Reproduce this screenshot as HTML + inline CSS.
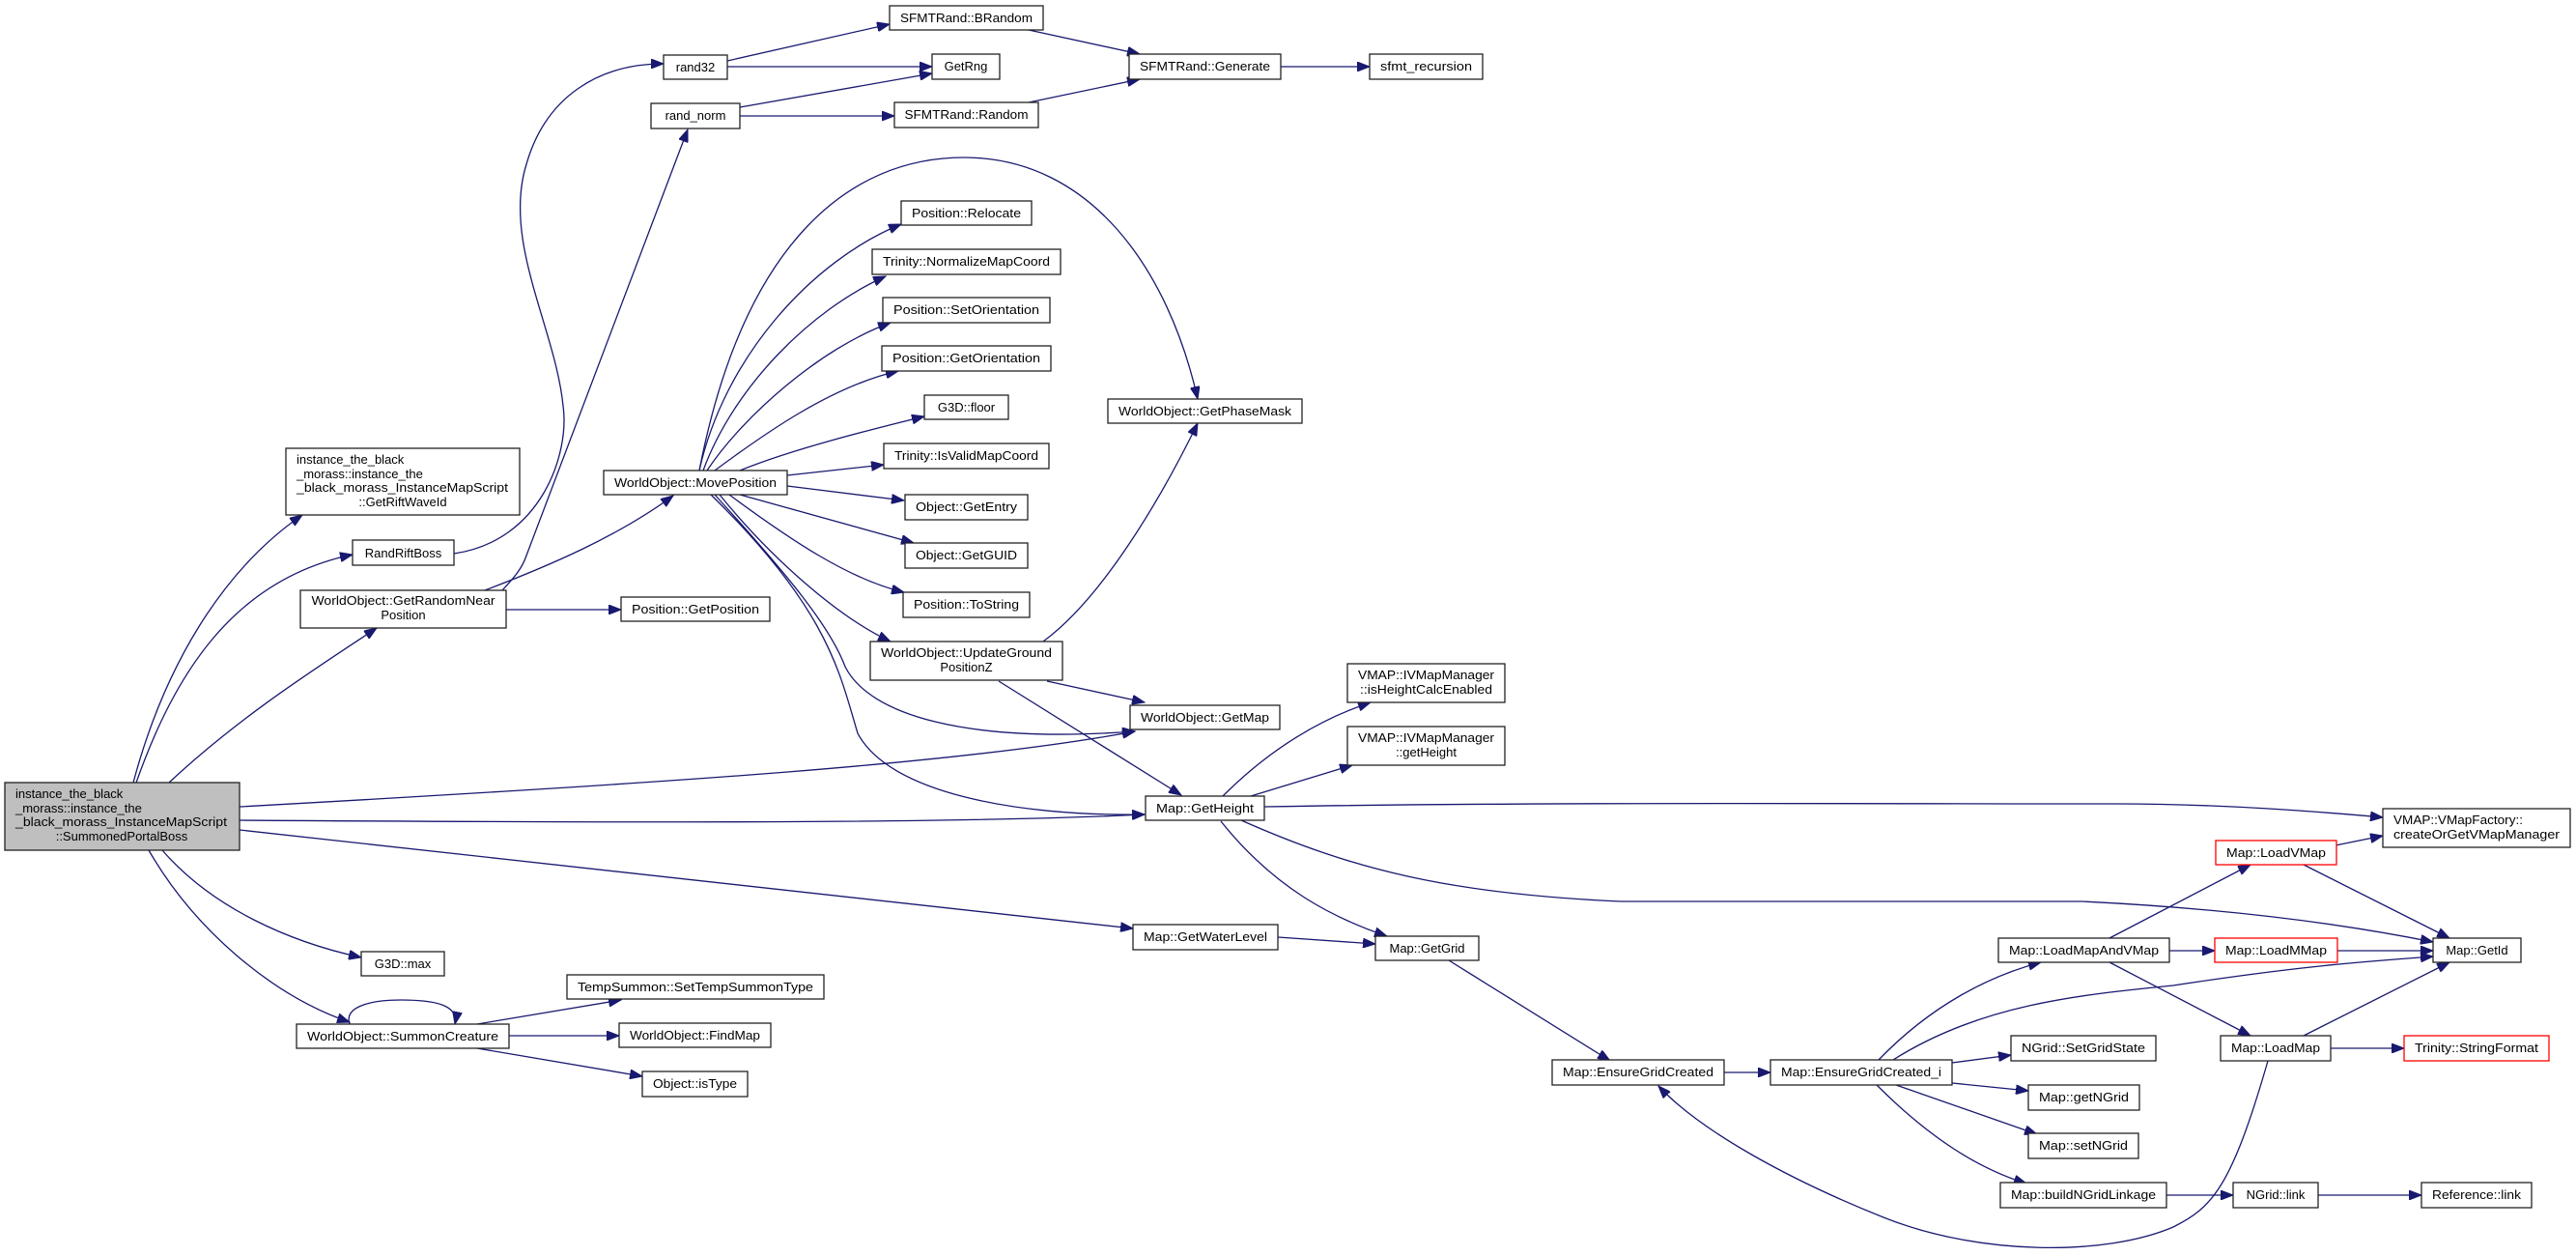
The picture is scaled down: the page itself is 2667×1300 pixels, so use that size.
<!DOCTYPE html>
<html><head><meta charset="utf-8">
<style>
html,body{margin:0;padding:0;background:#fff;}
svg{display:block;}
text{font-family:"Liberation Sans","DejaVu Sans",sans-serif;font-size:13px;fill:#000;}
.n{fill:#fff;stroke:#222;stroke-width:1.3;}
.m{fill:#bfbfbf;stroke:#222;stroke-width:1.3;}
.r{fill:#fff;stroke:#ff0000;stroke-width:1.3;}
.e{fill:none;stroke:#191970;stroke-width:1.3;marker-end:url(#a);}
</style></head><body>
<svg width="2667" height="1300" viewBox="0 0 2667 1300" xmlns="http://www.w3.org/2000/svg">
<defs>
<marker id="a" markerUnits="userSpaceOnUse" markerWidth="14" markerHeight="10" refX="13" refY="5" orient="auto">
<path d="M0,0 L13,5 L0,10 Z" fill="#191970" stroke="#191970"/>
</marker>
</defs>

<!-- edges -->
<path class="e" d="M138,810 C170,690 230,590 313,533"/>
<path class="e" d="M141,810 C180,700 240,600 365,574"/>
<path class="e" d="M175,810 C250,740 330,690 390,650"/>
<path class="e" d="M248,835 C700,810 1000,790 1175,757"/>
<path class="e" d="M248,849 C700,852 1000,852 1185,843"/>
<path class="e" d="M248,859 L1173,961"/>
<path class="e" d="M168,880 C220,940 300,975 374,991"/>
<path class="e" d="M154,880 C200,960 280,1030 362,1058"/>
<path class="e" d="M470,573 C560,560 590,470 583,420 C575,340 520,250 545,170 C565,100 620,66 687,66"/>
<path class="e" d="M520,611 C530,600 540,590 545,575 L712,134"/>
<path class="e" d="M502,611 C570,585 640,555 697,513"/>
<path class="e" d="M524,631 L643,631"/>
<path class="e" d="M753,63 L921,25"/>
<path class="e" d="M753,69 L965,69"/>
<path class="e" d="M766,111 L965,76"/>
<path class="e" d="M766,120 L926,120"/>
<path class="e" d="M1065,31 L1180,56"/>
<path class="e" d="M1065,106 L1180,82"/>
<path class="e" d="M1326,69 L1418,69"/>
<path class="e" d="M724,487 C770,250 880,163 998,163 C1130,163 1210,280 1240,413"/>
<path class="e" d="M724,487 C750,370 840,270 933,232"/>
<path class="e" d="M728,487 C760,400 840,320 917,286"/>
<path class="e" d="M732,487 C770,430 850,360 922,334"/>
<path class="e" d="M740,487 C790,450 860,400 930,384"/>
<path class="e" d="M766,487 C820,465 900,445 957,431"/>
<path class="e" d="M815,492 L915,481"/>
<path class="e" d="M815,503 L936,518"/>
<path class="e" d="M766,512 L946,562"/>
<path class="e" d="M755,512 C820,560 880,600 936,613"/>
<path class="e" d="M745,512 C800,580 870,640 922,664"/>
<path class="e" d="M740,512 C820,600 860,650 875,690 C900,740 1000,770 1175,757"/>
<path class="e" d="M736,512 C860,633 870,700 888,759 C920,820 1050,845 1185,843"/>
<path class="e" d="M1080,664 C1140,620 1200,520 1240,438"/>
<path class="e" d="M1084,705 L1185,727"/>
<path class="e" d="M1034,705 L1223,823"/>
<path class="e" d="M1266,824 C1300,790 1350,750 1419,727"/>
<path class="e" d="M1295,824 L1400,792"/>
<path class="e" d="M1309,835 C1600,830 1900,832 2191,832 C2300,832 2400,840 2467,846"/>
<path class="e" d="M1285,849 C1400,900 1500,925 1678,933 L2155,933 C2300,940 2420,955 2519,975"/>
<path class="e" d="M1264,850 C1320,920 1380,950 1436,969"/>
<path class="e" d="M1323,970 L1424,977"/>
<path class="e" d="M1500,994 L1667,1098"/>
<path class="e" d="M1785,1110 L1833,1110"/>
<path class="e" d="M1945,1097 C2000,1040 2060,1010 2113,996"/>
<path class="e" d="M1960,1097 C2050,1040 2150,1030 2250,1020 C2380,1000 2450,995 2519,990"/>
<path class="e" d="M2021,1100 L2082,1092"/>
<path class="e" d="M2021,1121 L2100,1129"/>
<path class="e" d="M1963,1123 L2109,1174"/>
<path class="e" d="M1943,1123 C2000,1180 2050,1210 2098,1225"/>
<path class="e" d="M2184,971 L2330,895"/>
<path class="e" d="M2246,984 L2293,984"/>
<path class="e" d="M2184,996 L2330,1072"/>
<path class="e" d="M2418,875 L2467,865"/>
<path class="e" d="M2385,895 L2536,971"/>
<path class="e" d="M2420,984 L2519,984"/>
<path class="e" d="M2385,1072 L2536,996"/>
<path class="e" d="M2413,1085 L2489,1085"/>
<path class="e" d="M2348,1098 C2310,1230 2290,1250 2250,1270 C2180,1300 2050,1300 1950,1260 C1850,1220 1760,1170 1717,1124"/>
<path class="e" d="M2243,1237 L2312,1237"/>
<path class="e" d="M2400,1237 L2507,1237"/>
<path class="e" d="M362,1060 C355,1040 390,1035 415,1035 C450,1035 475,1040 471,1060"/>
<path class="e" d="M494,1060 L643,1035"/>
<path class="e" d="M527,1072 L641,1072"/>
<path class="e" d="M494,1085 L665,1114"/>

<!-- nodes -->
<rect class="m" x="5" y="810" width="243" height="70"/>
<text x="16" y="826">instance_the_black</text>
<text x="16" y="841">_morass::instance_the</text>
<text x="16" y="855" textLength="219" lengthAdjust="spacingAndGlyphs">_black_morass_InstanceMapScript</text>
<text x="126" y="870" text-anchor="middle">::SummonedPortalBoss</text>

<rect class="n" x="296" y="464" width="242" height="69"/>
<text x="307" y="480">instance_the_black</text>
<text x="307" y="495">_morass::instance_the</text>
<text x="307" y="509" textLength="219" lengthAdjust="spacingAndGlyphs">_black_morass_InstanceMapScript</text>
<text x="417" y="524" text-anchor="middle">::GetRiftWaveId</text>

<rect class="n" x="365" y="559" width="105" height="26"/><text x="417.5" y="577" text-anchor="middle">RandRiftBoss</text>
<rect class="n" x="311" y="611" width="213" height="39"/>
<text x="417.5" y="626" text-anchor="middle" textLength="190" lengthAdjust="spacingAndGlyphs">WorldObject::GetRandomNear</text>
<text x="417.5" y="641" text-anchor="middle">Position</text>
<rect class="n" x="625" y="487" width="190" height="25"/><text x="720" y="504" text-anchor="middle" textLength="168" lengthAdjust="spacingAndGlyphs">WorldObject::MovePosition</text>
<rect class="n" x="643" y="618" width="154" height="25"/><text x="720" y="635" text-anchor="middle" textLength="132" lengthAdjust="spacingAndGlyphs">Position::GetPosition</text>
<rect class="n" x="687" y="57" width="66" height="25"/><text x="720" y="74" text-anchor="middle">rand32</text>
<rect class="n" x="674" y="107" width="92" height="26"/><text x="720" y="124" text-anchor="middle">rand_norm</text>
<rect class="n" x="921" y="6" width="159" height="25"/><text x="1000.5" y="23" text-anchor="middle" textLength="137" lengthAdjust="spacingAndGlyphs">SFMTRand::BRandom</text>
<rect class="n" x="965" y="56" width="70" height="26"/><text x="1000" y="73" text-anchor="middle">GetRng</text>
<rect class="n" x="926" y="106" width="149" height="26"/><text x="1000.5" y="123" text-anchor="middle" textLength="128" lengthAdjust="spacingAndGlyphs">SFMTRand::Random</text>
<rect class="n" x="1169" y="56" width="157" height="26"/><text x="1247.5" y="73" text-anchor="middle" textLength="135" lengthAdjust="spacingAndGlyphs">SFMTRand::Generate</text>
<rect class="n" x="1418" y="56" width="117" height="26"/><text x="1476.5" y="73" text-anchor="middle" textLength="95" lengthAdjust="spacingAndGlyphs">sfmt_recursion</text>
<rect class="n" x="933" y="208" width="135" height="25"/><text x="1000.5" y="225" text-anchor="middle" textLength="113" lengthAdjust="spacingAndGlyphs">Position::Relocate</text>
<rect class="n" x="903" y="258" width="195" height="26"/><text x="1000.5" y="275" text-anchor="middle" textLength="173" lengthAdjust="spacingAndGlyphs">Trinity::NormalizeMapCoord</text>
<rect class="n" x="914" y="308" width="173" height="26"/><text x="1000.5" y="325" text-anchor="middle" textLength="151" lengthAdjust="spacingAndGlyphs">Position::SetOrientation</text>
<rect class="n" x="913" y="358" width="175" height="26"/><text x="1000.5" y="375" text-anchor="middle" textLength="153" lengthAdjust="spacingAndGlyphs">Position::GetOrientation</text>
<rect class="n" x="957" y="409" width="87" height="25"/><text x="1000.5" y="426" text-anchor="middle">G3D::floor</text>
<rect class="n" x="915" y="459" width="171" height="26"/><text x="1000.5" y="476" text-anchor="middle" textLength="149" lengthAdjust="spacingAndGlyphs">Trinity::IsValidMapCoord</text>
<rect class="n" x="1147" y="413" width="201" height="25"/><text x="1247.5" y="430" text-anchor="middle" textLength="179" lengthAdjust="spacingAndGlyphs">WorldObject::GetPhaseMask</text>
<rect class="n" x="937" y="512" width="127" height="26"/><text x="1000.5" y="529" text-anchor="middle" textLength="105" lengthAdjust="spacingAndGlyphs">Object::GetEntry</text>
<rect class="n" x="937" y="562" width="127" height="26"/><text x="1000.5" y="579" text-anchor="middle" textLength="105" lengthAdjust="spacingAndGlyphs">Object::GetGUID</text>
<rect class="n" x="935" y="613" width="131" height="26"/><text x="1000.5" y="630" text-anchor="middle" textLength="109" lengthAdjust="spacingAndGlyphs">Position::ToString</text>
<rect class="n" x="901" y="664" width="199" height="40"/>
<text x="1000.5" y="680" text-anchor="middle" textLength="177" lengthAdjust="spacingAndGlyphs">WorldObject::UpdateGround</text>
<text x="1000.5" y="695" text-anchor="middle">PositionZ</text>
<rect class="n" x="1170" y="730" width="155" height="25"/><text x="1247.5" y="747" text-anchor="middle" textLength="133" lengthAdjust="spacingAndGlyphs">WorldObject::GetMap</text>
<rect class="n" x="1395" y="687" width="163" height="40"/>
<text x="1476.5" y="703" text-anchor="middle" textLength="141" lengthAdjust="spacingAndGlyphs">VMAP::IVMapManager</text>
<text x="1476.5" y="718" text-anchor="middle" textLength="137" lengthAdjust="spacingAndGlyphs">::isHeightCalcEnabled</text>
<rect class="n" x="1395" y="752" width="163" height="40"/>
<text x="1476.5" y="768" text-anchor="middle" textLength="141" lengthAdjust="spacingAndGlyphs">VMAP::IVMapManager</text>
<text x="1476.5" y="783" text-anchor="middle">::getHeight</text>
<rect class="n" x="1186" y="824" width="123" height="25"/><text x="1247.5" y="841" text-anchor="middle" textLength="101" lengthAdjust="spacingAndGlyphs">Map::GetHeight</text>
<rect class="n" x="1173" y="957" width="150" height="26"/><text x="1248" y="974" text-anchor="middle" textLength="128" lengthAdjust="spacingAndGlyphs">Map::GetWaterLevel</text>
<rect class="n" x="1424" y="969" width="107" height="25"/><text x="1477.5" y="986" text-anchor="middle">Map::GetGrid</text>
<rect class="n" x="374" y="985" width="86" height="25"/><text x="417" y="1002" text-anchor="middle">G3D::max</text>
<rect class="n" x="307" y="1060" width="220" height="25"/><text x="417" y="1077" text-anchor="middle" textLength="198" lengthAdjust="spacingAndGlyphs">WorldObject::SummonCreature</text>
<rect class="n" x="587" y="1009" width="266" height="25"/><text x="720" y="1026" text-anchor="middle" textLength="244" lengthAdjust="spacingAndGlyphs">TempSummon::SetTempSummonType</text>
<rect class="n" x="641" y="1059" width="157" height="25"/><text x="719.5" y="1076" text-anchor="middle" textLength="135" lengthAdjust="spacingAndGlyphs">WorldObject::FindMap</text>
<rect class="n" x="665" y="1109" width="109" height="26"/><text x="719.5" y="1126" text-anchor="middle" textLength="87" lengthAdjust="spacingAndGlyphs">Object::isType</text>
<rect class="n" x="2467" y="837" width="194" height="40"/>
<text x="2478" y="853" textLength="134" lengthAdjust="spacingAndGlyphs">VMAP::VMapFactory::</text>
<text x="2478" y="868" textLength="172" lengthAdjust="spacingAndGlyphs">createOrGetVMapManager</text>
<rect class="r" x="2294" y="870" width="125" height="25"/><text x="2356.5" y="887" text-anchor="middle" textLength="103" lengthAdjust="spacingAndGlyphs">Map::LoadVMap</text>
<rect class="n" x="2519" y="971" width="91" height="25"/><text x="2564.5" y="988" text-anchor="middle">Map::GetId</text>
<rect class="n" x="2069" y="971" width="177" height="25"/><text x="2157.5" y="988" text-anchor="middle" textLength="155" lengthAdjust="spacingAndGlyphs">Map::LoadMapAndVMap</text>
<rect class="r" x="2293" y="971" width="127" height="25"/><text x="2356.5" y="988" text-anchor="middle" textLength="105" lengthAdjust="spacingAndGlyphs">Map::LoadMMap</text>
<rect class="n" x="2299" y="1072" width="114" height="26"/><text x="2356" y="1089" text-anchor="middle" textLength="92" lengthAdjust="spacingAndGlyphs">Map::LoadMap</text>
<rect class="r" x="2489" y="1072" width="150" height="26"/><text x="2564" y="1089" text-anchor="middle" textLength="128" lengthAdjust="spacingAndGlyphs">Trinity::StringFormat</text>
<rect class="n" x="2082" y="1072" width="150" height="26"/><text x="2157" y="1089" text-anchor="middle" textLength="128" lengthAdjust="spacingAndGlyphs">NGrid::SetGridState</text>
<rect class="n" x="1607" y="1097" width="178" height="26"/><text x="1696" y="1114" text-anchor="middle" textLength="156" lengthAdjust="spacingAndGlyphs">Map::EnsureGridCreated</text>
<rect class="n" x="1833" y="1097" width="188" height="26"/><text x="1927" y="1114" text-anchor="middle" textLength="166" lengthAdjust="spacingAndGlyphs">Map::EnsureGridCreated_i</text>
<rect class="n" x="2100" y="1123" width="115" height="26"/><text x="2157.5" y="1140" text-anchor="middle" textLength="93" lengthAdjust="spacingAndGlyphs">Map::getNGrid</text>
<rect class="n" x="2100" y="1173" width="114" height="26"/><text x="2157" y="1190" text-anchor="middle" textLength="92" lengthAdjust="spacingAndGlyphs">Map::setNGrid</text>
<rect class="n" x="2071" y="1224" width="172" height="26"/><text x="2157" y="1241" text-anchor="middle" textLength="150" lengthAdjust="spacingAndGlyphs">Map::buildNGridLinkage</text>
<rect class="n" x="2312" y="1224" width="88" height="26"/><text x="2356" y="1241" text-anchor="middle">NGrid::link</text>
<rect class="n" x="2507" y="1224" width="114" height="26"/><text x="2564" y="1241" text-anchor="middle" textLength="92" lengthAdjust="spacingAndGlyphs">Reference::link</text>
</svg>
</body></html>
